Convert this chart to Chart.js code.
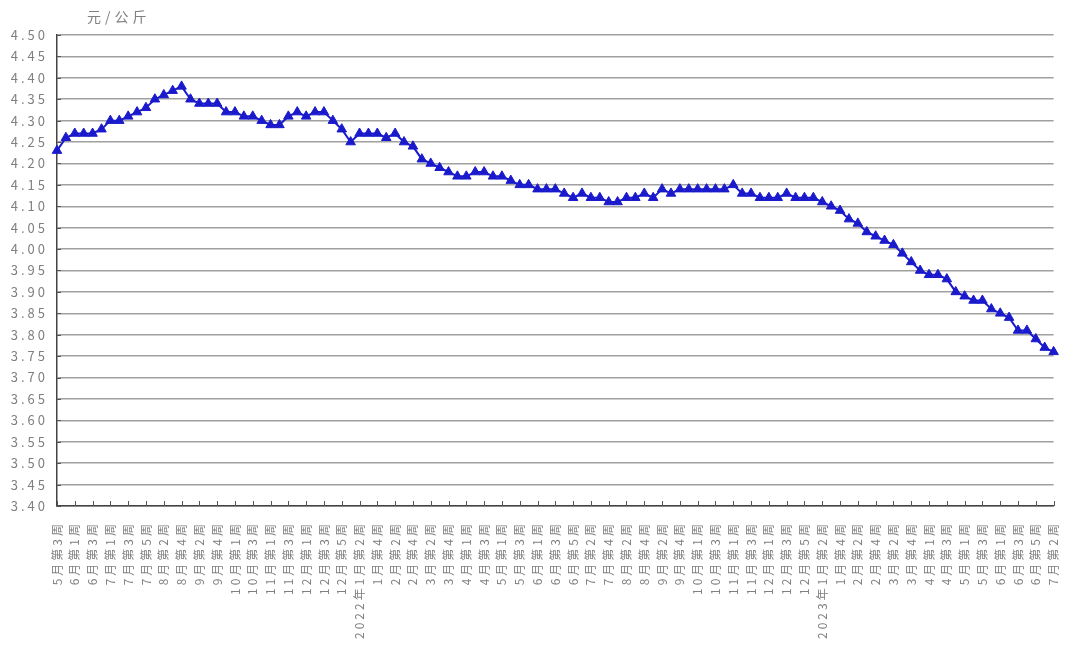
<!DOCTYPE html>
<html>
<head>
<meta charset="utf-8">
<script src="https://cdn.jsdelivr.net/npm/chart.js@4/dist/chart.umd.min.js"></script>
<style>
  body { margin: 0; background: #fff; }
  #wrap { width: 1075px; height: 645px; }
</style>
</head>
<body>
<div id="wrap"><canvas id="grafico"></canvas></div>
<script>
// categorias (semanas)
const weeks2021 = ["5月第3周","5月第4周","6月第1周","6月第2周","6月第3周","6月第4周","7月第1周","7月第2周","7月第3周","7月第4周","7月第5周",
  "8月第1周","8月第2周","8月第3周","8月第4周","9月第1周","9月第2周","9月第3周","9月第4周","9月第5周","10月第1周","10月第2周","10月第3周","10月第4周",
  "11月第1周","11月第2周","11月第3周","11月第4周","12月第1周","12月第2周","12月第3周","12月第4周","12月第5周"];
const weeks2022 = ["1月第1周","2022年1月第2周","1月第3周","1月第4周","2月第1周","2月第2周","2月第3周","2月第4周","3月第1周","3月第2周","3月第3周","3月第4周","3月第5周",
  "4月第1周","4月第2周","4月第3周","4月第4周","5月第1周","5月第2周","5月第3周","5月第4周","6月第1周","6月第2周","6月第3周","6月第4周","6月第5周",
  "7月第1周","7月第2周","7月第3周","7月第4周","8月第1周","8月第2周","8月第3周","8月第4周","9月第1周","9月第2周","9月第3周","9月第4周","9月第5周",
  "10月第1周","10月第2周","10月第3周","10月第4周","11月第1周","11月第2周","11月第3周","11月第4周","12月第1周","12月第2周","12月第3周","12月第4周","12月第5周"];
const weeks2023 = ["1月第1周","2023年1月第2周","1月第3周","1月第4周","2月第1周","2月第2周","2月第3周","2月第4周","3月第1周","3月第2周","3月第3周","3月第4周","3月第5周",
  "4月第1周","4月第2周","4月第3周","4月第4周","5月第1周","5月第2周","5月第3周","5月第4周","6月第1周","6月第2周","6月第3周","6月第4周","6月第5周",
  "7月第1周","7月第2周"];

// preços (元/公斤)
const price2021 = [4.23,4.26,4.27,4.27,4.27,4.28,4.30,4.30,4.31,4.32,4.33,4.35,4.36,4.37,4.38,4.35,4.34,4.34,4.34,4.32,4.32,4.31,4.31,4.30,4.29,4.29,4.31,4.32,4.31,4.32,4.32,4.30,4.28];
const price2022 = [4.25,4.27,4.27,4.27,4.26,4.27,4.25,4.24,4.21,4.20,4.19,4.18,4.17,4.17,4.18,4.18,4.17,4.17,4.16,4.15,
  4.15,4.14,4.14,4.14,4.13,4.12,4.13,4.12,4.12,4.11,4.11,4.12,4.12,4.13,4.12,4.14,4.13,4.14,4.14,4.14,
  4.14,4.14,4.14,4.15,4.13,4.13,4.12,4.12,4.12,4.13,4.12,4.12];
const price2023 = [4.12,4.11,4.10,4.09,4.07,4.06,4.04,4.03,4.02,4.01,3.99,3.97,3.95,3.94,3.94,3.93,3.90,3.89,3.88,3.88,
  3.86,3.85,3.84,3.81,3.81,3.79,3.77,3.76];

const weeks = weeks2021.concat(weeks2022, weeks2023);
const prices = price2021.concat(price2022, price2023);

const yMin = 3.40;
const yMax = 4.50;
const yStep = 0.05;
const unidade = "元/公斤";

const azul = "#1a1acc";
const cinza = "#808080";
const fonte = '"Noto Sans CJK SC", sans-serif';

// ticks internos + título do eixo
const extras = {
  id: "extras",
  beforeUpdate(chart) { chart.ctx.letterSpacing = "3px"; },
  beforeDraw(chart) { chart.ctx.letterSpacing = "3px"; },
  afterDraw(chart) {
    const { ctx, chartArea: a, scales: { x, y } } = chart;
    ctx.save();
    ctx.strokeStyle = "#555";
    ctx.lineWidth = 1;
    ctx.beginPath();
    for (let i = 0; i < weeks.length; i += 2) {
      const px = Math.round(x.getPixelForValue(i)) + 0.5;
      ctx.moveTo(px, a.bottom);
      ctx.lineTo(px, a.bottom - 5);
    }
    y.ticks.forEach(t => {
      const py = Math.round(y.getPixelForValue(t.value)) + 0.5;
      ctx.moveTo(a.left, py);
      ctx.lineTo(a.left + 4, py);
    });
    ctx.stroke();
    ctx.fillStyle = cinza;
    ctx.font = "14px " + fonte;
    ctx.letterSpacing = "4px";
    ctx.textBaseline = "middle";
    ctx.fillText(unidade, a.left + 30, a.top - 18);
    ctx.restore();
  }
};

new Chart(document.getElementById("grafico"), {
  type: "line",
  data: {
    labels: weeks,
    datasets: [{
      data: prices,
      borderColor: azul,
      borderWidth: 2,
      backgroundColor: azul,
      pointStyle: "triangle",
      pointRadius: 5.5,
      pointBackgroundColor: azul,
      pointBorderColor: azul,
      pointBorderWidth: 1,
      tension: 0
    }]
  },
  options: {
    responsive: true,
    maintainAspectRatio: false,
    animation: false,
    layout: { padding: { top: 35, right: 2, left: 0, bottom: 0 } },
    plugins: { legend: { display: false }, tooltip: { enabled: false } },
    scales: {
      x: {
        type: "category",
        offset: false,
        grid: { display: false },
        border: { display: true, color: "#444", width: 1.5 },
        ticks: {
          autoSkip: false,
          minRotation: 90,
          maxRotation: 90,
          padding: 7,
          color: cinza,
          font: { family: fonte, size: 12 },
          callback: (v, i) => (i % 2 === 0 ? weeks[i] : "")
        },
        afterFit: s => { s.height = 139; }
      },
      y: {
        min: yMin,
        max: yMax,
        grid: { color: "#a0a0a0", lineWidth: 1.5, drawTicks: false },
        border: { display: true, color: "#444", width: 1.5 },
        ticks: {
          stepSize: yStep,
          padding: 9,
          color: cinza,
          font: { family: fonte, size: 13 },
          callback: v => v.toFixed(2)
        },
        afterFit: s => { s.width = 57; }
      }
    }
  },
  plugins: [extras]
});
</script>
</body>
</html>
